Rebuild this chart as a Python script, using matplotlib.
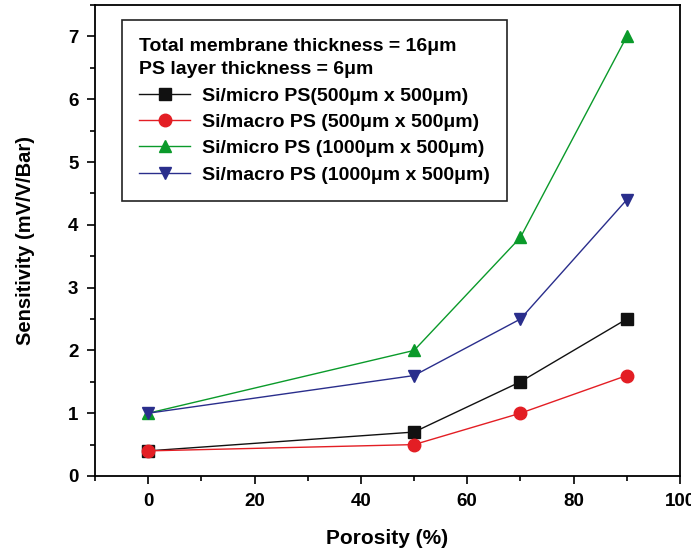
import numpy as np
import matplotlib.pyplot as plt
from matplotlib.ticker import MultipleLocator

plt.rcParams['font.family'] = ['Liberation Sans', 'DejaVu Sans']
plt.rcParams['font.weight'] = 'bold'

### data ######################################################################

porosity = [0, 50, 70, 90]
micro_500 = [0.4, 0.7, 1.5, 2.5]
macro_500 = [0.4, 0.5, 1.0, 1.6]
micro_1000 = [1.0, 2.0, 3.8, 7.0]
macro_1000 = [1.0, 1.6, 2.5, 4.4]

labels = ['Si/micro PS(500\u03bcm x 500\u03bcm)',
          'Si/macro PS (500\u03bcm x 500\u03bcm)',
          'Si/micro PS (1000\u03bcm x 500\u03bcm)',
          'Si/macro PS (1000\u03bcm x 500\u03bcm)']
colors = ['#111111', '#e31e24', '#0a9a2a', '#2a2e8c']
markers = ['s', 'o', '^', 'v']

### plot ######################################################################

fig = plt.figure(figsize=(6.91, 5.54), dpi=100)
ax = fig.add_axes([0.1375, 0.1408, 0.8465, 0.850])

series = [micro_500, macro_500, micro_1000, macro_1000]
for vals, c, m, lab in zip(series, colors, markers, labels):
    ax.plot(porosity, vals, color=c, marker=m, markersize=9 if m != 's' else 8,
            linewidth=1, label=lab, markeredgecolor=c)

ax.set_xlim(-10, 100)
ax.set_ylim(0, 7.5)
ax.xaxis.set_major_locator(MultipleLocator(20))
ax.xaxis.set_minor_locator(MultipleLocator(10))
ax.yaxis.set_major_locator(MultipleLocator(1))
ax.yaxis.set_minor_locator(MultipleLocator(0.5))
ax.tick_params(which='both', direction='out', top=False, right=False, width=1.2)
ax.tick_params(which='major', length=6, labelsize=13.5, pad=6)
ax.tick_params(which='minor', length=3.5)
for sp in ax.spines.values():
    sp.set_linewidth(1.3)

ax.set_xlabel('Porosity (%)', fontsize=15, fontweight='bold', labelpad=14)
ax.set_ylabel('Sensitivity (mV/V/Bar)', fontsize=14.5, fontweight='bold', labelpad=24)

leg = ax.legend(loc='upper left', bbox_to_anchor=(0.046, 0.968), fontsize=14,
                title='Total membrane thickness = 16\u03bcm\nPS layer thickness = 6\u03bcm',
                title_fontproperties={'weight': 'bold', 'size': 14},
                alignment='left', fancybox=False, framealpha=1, edgecolor='#222222',
                handlelength=2.6, handletextpad=0.6, labelspacing=0.45,
                borderpad=0.9, borderaxespad=0)
leg.get_frame().set_linewidth(1.2)
leg.get_title().set_linespacing(1.5)

fig.savefig('out.png', dpi=100)
